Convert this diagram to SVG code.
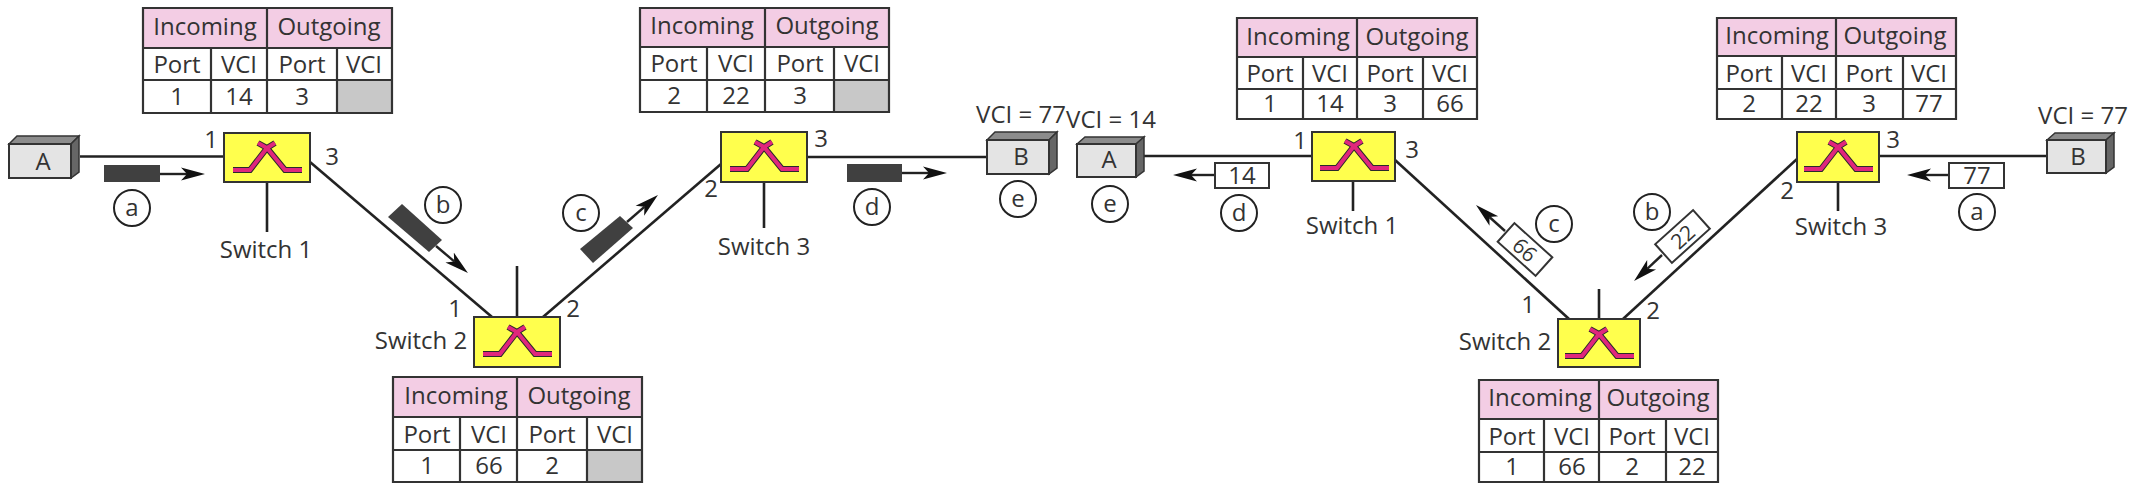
<svg xmlns="http://www.w3.org/2000/svg" xmlns:xlink="http://www.w3.org/1999/xlink" width="2138" height="492" viewBox="0 0 2138 492">
<style>
text{font-family:"Open Sans","Noto Sans","Liberation Sans",sans-serif;font-size:24px;fill:#333;text-anchor:middle}
.sm{font-size:21px}
.tb{fill:#fff;stroke:none}
.hd{fill:#f3cde4;stroke:none}
.na{fill:#c8c8c8;stroke:none}
.grid{fill:none;stroke:#333;stroke-width:2.2}
.sw{fill:#ffff4d;stroke:#333;stroke-width:2}
.gl0{fill:none;stroke:#2a2a2a;stroke-width:6;stroke-linejoin:miter}
.gl1{fill:none;stroke:#e0267c;stroke-width:4;stroke-linejoin:miter}
.ln{fill:none;stroke:#222;stroke-width:2.6}
.ar{fill:none;stroke:#222;stroke-width:2.4;marker-end:url(#head)}
.pk{fill:#404040;stroke:none}
.lb{fill:#fff;stroke:#333;stroke-width:2}
.cir{fill:#fff;stroke:#222;stroke-width:2}
.fr{fill:#e4e4e4;stroke:#333;stroke-width:2}
.tp{fill:#8c8c8c;stroke:#333;stroke-width:1.5}
.sd{fill:#666;stroke:#333;stroke-width:1.5}
</style>
<defs>
<marker id="head" markerUnits="userSpaceOnUse" markerWidth="26" markerHeight="16" refX="6" refY="7" orient="auto" viewBox="0 0 26 14"><path d="M0,0.5L24,7L0,13.5L6,7z" fill="#111"/></marker>
<g id="glyph"><path class="gl0" d="M9,37H26L43,15L34,10M78,37H61L43,15L51,10"/><path class="gl1" d="M9,37H26L43,15L34,10M78,37H61L43,15L51,10"/></g>
</defs>
<rect width="2138" height="492" fill="#fff"/>
<g id="connectors">
<path class="ln" d="M80,156.500H224"/>
<path class="ln" d="M267,182V232"/>
<path class="ln" d="M310,162L492,317"/>
<path class="ln" d="M517,266V317"/>
<path class="ln" d="M543,317L721,164"/>
<path class="ln" d="M807,157H987"/>
<path class="ln" d="M764,182V228"/>
<path class="ln" d="M1140,156H1312"/>
<path class="ln" d="M1353,181V211"/>
<path class="ln" d="M1395,160L1569,319"/>
<path class="ln" d="M1599,289V319"/>
<path class="ln" d="M1623,319L1797,159"/>
<path class="ln" d="M1879,156H2047"/>
<path class="ln" d="M1838,182V211"/>
<path class="ar" d="M160,174H187"/>
<path class="ar" d="M436,246L454.200,261.400"/>
<path class="ar" d="M627,222L644.400,206.800"/>
<path class="ar" d="M902,173H929"/>
<path class="ar" d="M1215,175H1191"/>
<path class="ar" d="M1505,231L1489.400,217"/>
<path class="ar" d="M1662,255L1647.200,268.800"/>
<path class="ar" d="M1949,175H1925"/>
</g>
<g id="table-l1"><rect class="tb" x="143" y="8" width="249" height="105"/><rect class="hd" x="143" y="8" width="249" height="40"/><rect class="na" x="337" y="80" width="55" height="33"/><path class="grid" d="M143,8H392V113H143ZM143,48H392M143,80H392M267,8V113M211,48V113M337,48V113"/><text x="205" y="35">Incoming</text><text x="329" y="35">Outgoing</text><text x="177" y="73">Port</text><text x="239" y="73">VCI</text><text x="302" y="73">Port</text><text x="364" y="73">VCI</text><text x="177" y="105">1</text><text x="239" y="105">14</text><text x="302" y="105">3</text></g>
<g id="table-l3"><rect class="tb" x="640" y="8" width="249" height="104"/><rect class="hd" x="640" y="8" width="249" height="39"/><rect class="na" x="834" y="80" width="55" height="32"/><path class="grid" d="M640,8H889V112H640ZM640,47H889M640,80H889M765,8V112M707,47V112M834,47V112"/><text x="702" y="34">Incoming</text><text x="827" y="34">Outgoing</text><text x="674" y="72">Port</text><text x="736" y="72">VCI</text><text x="800" y="72">Port</text><text x="862" y="72">VCI</text><text x="674" y="104">2</text><text x="736" y="104">22</text><text x="800" y="104">3</text></g>
<g id="table-l2"><rect class="tb" x="393" y="377" width="249" height="105"/><rect class="hd" x="393" y="377" width="249" height="40"/><rect class="na" x="587" y="450" width="55" height="32"/><path class="grid" d="M393,377H642V482H393ZM393,417H642M393,450H642M517,377V482M460,417V482M587,417V482"/><text x="456" y="404">Incoming</text><text x="579" y="404">Outgoing</text><text x="427" y="443">Port</text><text x="489" y="443">VCI</text><text x="552" y="443">Port</text><text x="615" y="443">VCI</text><text x="427" y="474">1</text><text x="489" y="474">66</text><text x="552" y="474">2</text></g>
<g id="table-r1"><rect class="tb" x="1237" y="18" width="240" height="101"/><rect class="hd" x="1237" y="18" width="240" height="39"/><path class="grid" d="M1237,18H1477V119H1237ZM1237,57H1477M1237,89H1477M1357,18V119M1303,57V119M1423,57V119"/><text x="1298" y="45">Incoming</text><text x="1417" y="45">Outgoing</text><text x="1270" y="82">Port</text><text x="1330" y="82">VCI</text><text x="1390" y="82">Port</text><text x="1450" y="82">VCI</text><text x="1270" y="112">1</text><text x="1330" y="112">14</text><text x="1390" y="112">3</text><text x="1450" y="112">66</text></g>
<g id="table-r3"><rect class="tb" x="1717" y="18" width="239" height="101"/><rect class="hd" x="1717" y="18" width="239" height="38"/><path class="grid" d="M1717,18H1956V119H1717ZM1717,56H1956M1717,89H1956M1836,18V119M1782,56V119M1903,56V119"/><text x="1777" y="44">Incoming</text><text x="1895" y="44">Outgoing</text><text x="1749" y="82">Port</text><text x="1809" y="82">VCI</text><text x="1869" y="82">Port</text><text x="1929" y="82">VCI</text><text x="1749" y="112">2</text><text x="1809" y="112">22</text><text x="1869" y="112">3</text><text x="1929" y="112">77</text></g>
<g id="table-r2"><rect class="tb" x="1479" y="380" width="239" height="102"/><rect class="hd" x="1479" y="380" width="239" height="39"/><path class="grid" d="M1479,380H1718V482H1479ZM1479,419H1718M1479,452H1718M1599,380V482M1544,419V482M1666,419V482"/><text x="1540" y="406">Incoming</text><text x="1658" y="406">Outgoing</text><text x="1512" y="445">Port</text><text x="1572" y="445">VCI</text><text x="1632" y="445">Port</text><text x="1692" y="445">VCI</text><text x="1512" y="475">1</text><text x="1572" y="475">66</text><text x="1632" y="475">2</text><text x="1692" y="475">22</text></g>
<g id="host-a-left"><path class="tp" d="M9,144L17,136H79L71,144Z"/><path class="sd" d="M71,144L79,136V172L71,178Z"/><rect class="fr" x="9" y="144" width="62" height="34"/><text x="43" y="170">A</text></g>
<g id="host-b-left"><path class="tp" d="M987,140L995,132H1057L1049,140Z"/><path class="sd" d="M1049,140L1057,132V168L1049,174Z"/><rect class="fr" x="987" y="140" width="62" height="34"/><text x="1021" y="165">B</text><text x="1021" y="123">VCI = 77</text></g>
<g id="host-a-right"><path class="tp" d="M1077,144L1085,137H1144L1136,144Z"/><path class="sd" d="M1136,144L1144,137V171L1136,177Z"/><rect class="fr" x="1077" y="144" width="59" height="33"/><text x="1109" y="168">A</text><text x="1111" y="128">VCI = 14</text></g>
<g id="host-b-right"><path class="tp" d="M2047,140L2055,133H2114L2106,140Z"/><path class="sd" d="M2106,140L2114,133V167L2106,173Z"/><rect class="fr" x="2047" y="140" width="59" height="33"/><text x="2078" y="165">B</text><text x="2083" y="124">VCI = 77</text></g>
<g id="switch-l1"><rect class="sw" x="224" y="133" width="86" height="49"/><use href="#glyph" x="224" y="133"/><text x="211" y="148">1</text><text x="332" y="165">3</text><text x="266" y="258">Switch 1</text></g>
<g id="switch-l2"><rect class="sw" x="474" y="317" width="86" height="50"/><use href="#glyph" x="474" y="317"/><text x="455" y="317">1</text><text x="573" y="317">2</text><text x="421" y="349">Switch 2</text></g>
<g id="switch-l3"><rect class="sw" x="721" y="132" width="86" height="50"/><use href="#glyph" x="721" y="132"/><text x="821" y="147">3</text><text x="711" y="197">2</text><text x="764" y="255">Switch 3</text></g>
<g id="switch-r1"><rect class="sw" x="1312" y="132" width="83" height="49"/><use href="#glyph" x="1311" y="131"/><text x="1300" y="149">1</text><text x="1412" y="158">3</text><text x="1352" y="234">Switch 1</text></g>
<g id="switch-r2"><rect class="sw" x="1558" y="319" width="82" height="48"/><use href="#glyph" x="1556" y="319"/><text x="1528" y="313">1</text><text x="1653" y="319">2</text><text x="1505" y="350">Switch 2</text></g>
<g id="switch-r3"><rect class="sw" x="1797" y="132" width="82" height="50"/><use href="#glyph" x="1795" y="132"/><text x="1893" y="148">3</text><text x="1787" y="199">2</text><text x="1841" y="235">Switch 3</text></g>
<g id="packets">
<rect class="pk" x="104" y="165" width="56" height="17"/>
<path class="pk" d="M402,204L442,240L429,252L388,217Z"/>
<path class="pk" d="M620,216L633,228L593,263L580,249Z"/>
<rect class="pk" x="847" y="164" width="55" height="18"/>
<g><rect class="lb" x="1215" y="163" width="54" height="25"/><text x="1242" y="184">14</text></g>
<g><rect class="lb" x="1949" y="163" width="55" height="25"/><text x="1977" y="184">77</text></g>
<g transform="translate(1525,249.500) rotate(42)"><rect class="lb" x="-25.500" y="-12.500" width="51" height="25"/><text x="0" y="8" class="sm">66</text></g>
<g transform="translate(1682.500,236.500) rotate(-42)"><rect class="lb" x="-25.500" y="-12.500" width="51" height="25"/><text x="0" y="8" class="sm">22</text></g>
</g>
<g id="tags">
<g><circle class="cir" cx="132" cy="208" r="18"/><text x="132" y="216">a</text></g>
<g><circle class="cir" cx="443" cy="205" r="18"/><text x="443" y="213">b</text></g>
<g><circle class="cir" cx="581" cy="213" r="18"/><text x="581" y="221">c</text></g>
<g><circle class="cir" cx="872" cy="207" r="18"/><text x="872" y="215">d</text></g>
<g><circle class="cir" cx="1018" cy="199" r="18"/><text x="1018" y="207">e</text></g>
<g><circle class="cir" cx="1110" cy="204" r="18"/><text x="1110" y="212">e</text></g>
<g><circle class="cir" cx="1239" cy="213" r="18"/><text x="1239" y="221">d</text></g>
<g><circle class="cir" cx="1554" cy="224" r="18"/><text x="1554" y="232">c</text></g>
<g><circle class="cir" cx="1652" cy="212" r="18"/><text x="1652" y="220">b</text></g>
<g><circle class="cir" cx="1977" cy="212" r="18"/><text x="1977" y="220">a</text></g>
</g>
</svg>
